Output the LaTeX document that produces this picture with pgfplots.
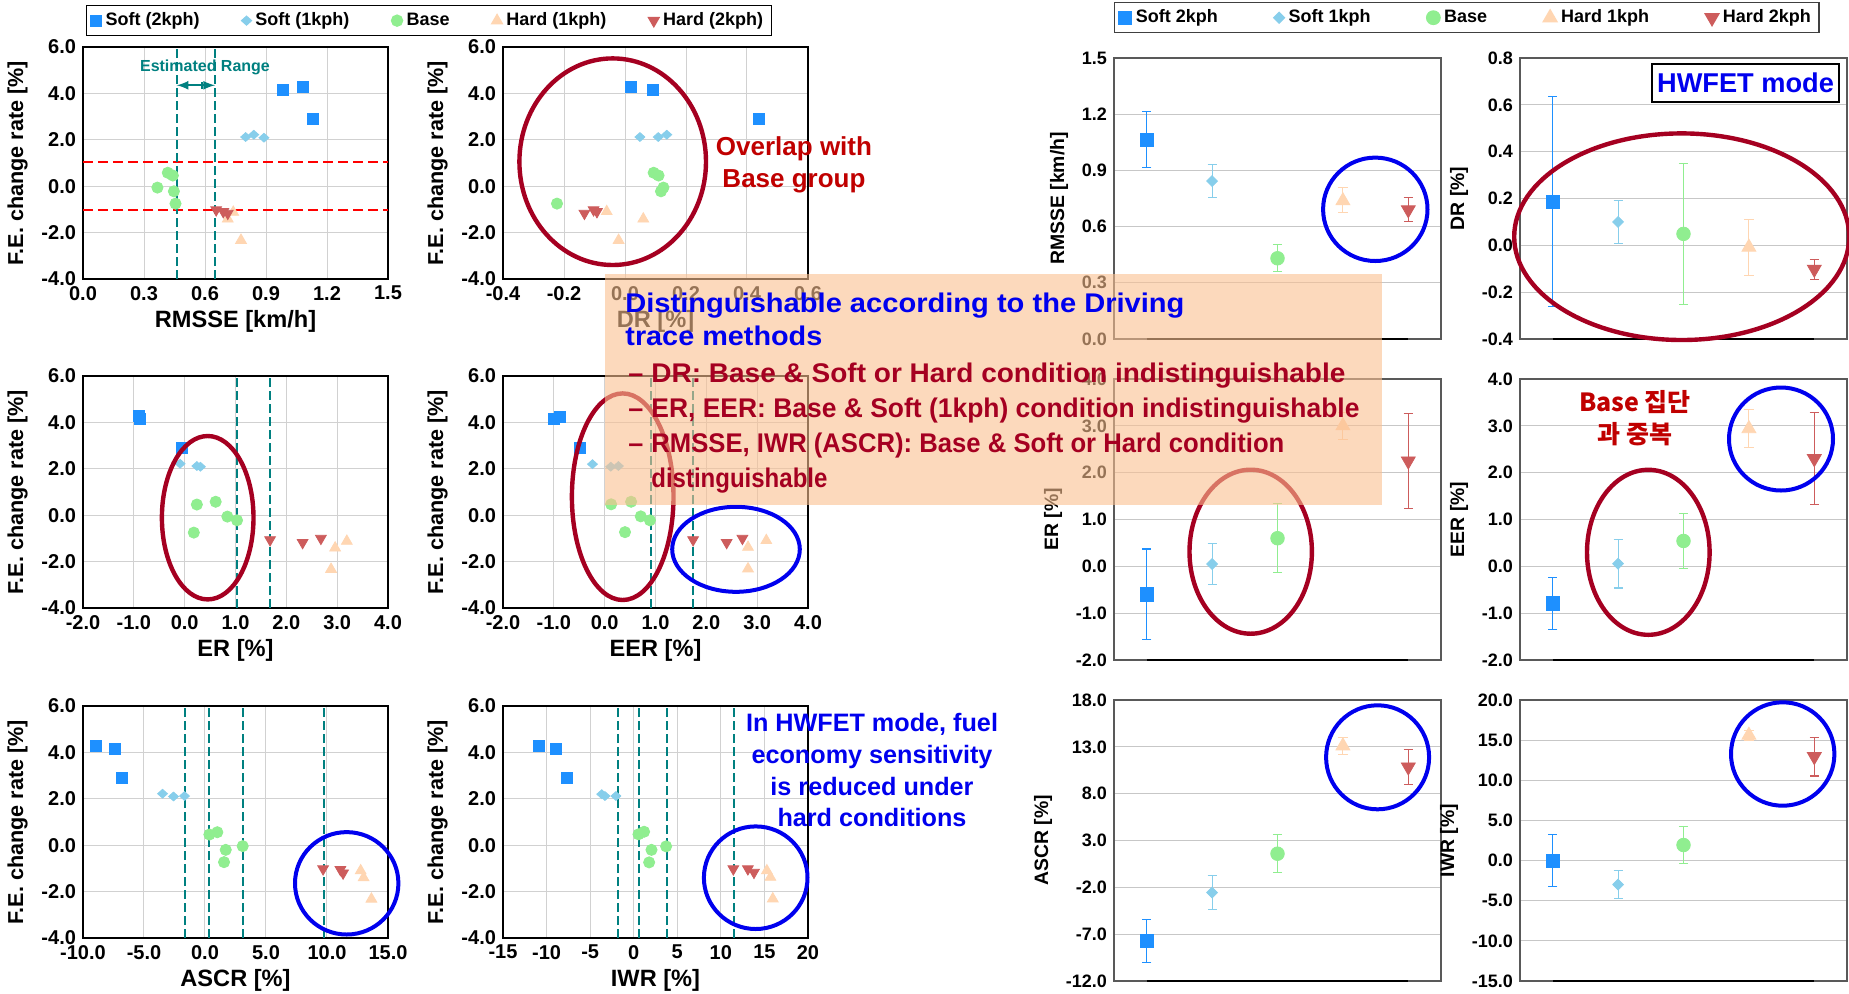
\documentclass[border=0pt]{standalone}
\usepackage{fontspec}
\setmainfont{Liberation Sans}
\newfontfamily\kr{Noto Sans CJK KR}
\usepackage{graphicx}
\usepackage{pgfplots}
\pgfplotsset{compat=1.18}

\definecolor{csoft2}{RGB}{30,144,255}
\definecolor{csoft1}{RGB}{135,206,235}
\definecolor{cbase}{RGB}{144,238,144}
\definecolor{chard1}{RGB}{255,214,178}
\definecolor{chard2}{RGB}{205,92,92}
\definecolor{cteal}{RGB}{0,128,128}
\definecolor{cdarkred}{RGB}{165,0,33}
\definecolor{cblue}{RGB}{0,0,238}
\definecolor{ctextred}{RGB}{192,0,0}
\definecolor{cbox}{RGB}{250,192,144}

\tikzset{tealline/.style={draw=cteal, line width=1pt, dash pattern=on 4.5pt off 2pt}}

\pgfplotsset{
  mk soft2/.style={mark=square*, color=csoft2, mark size=2.75pt},
  mk soft1/.style={mark=diamond*, color=csoft1, mark size=2.2pt, mark options={xscale=1.5}},
  mk base/.style={mark=*, color=cbase, mark size=2.8pt},
  mk hard1/.style={mark=triangle*, color=chard1, mark size=3.1pt},
  mk hard2/.style={mark=triangle*, color=chard2, mark size=3.1pt, mark options={rotate=180}},
  big soft2/.style={mark=square*, color=csoft2, mark size=3.3pt},
  big soft1/.style={mark=diamond*, color=csoft1, mark size=2.7pt, mark options={xscale=1.33}},
  big base/.style={mark=*, color=cbase, mark size=3.4pt},
  big hard1/.style={mark=triangle*, color=chard1, mark size=4pt},
  big hard2/.style={mark=triangle*, color=chard2, mark size=4pt, mark options={rotate=180}},
  ebar/.style={error bars/.cd, y dir=both, y explicit,
    error bar style={line width=0.55pt},
    error mark options={rotate=90, mark size=2.3pt, line width=0.55pt}},
  leftax/.style={
    scale only axis, width=152.5pt, height=116pt, anchor=north west,
    ymin=-4, ymax=6, ytick={-4,-2,0,2,4,6},
    grid=major, major grid style={draw=black!18, line width=0.5pt},
    axis line style={line width=0.7pt},
    major tick length=0pt,
    ylabel={F.E. change rate [\%]},
    tick label style={font=\fontsize{10}{12}\selectfont\bfseries},
    xlabel style={font=\fontsize{11.8}{13}\selectfont\bfseries, yshift=2pt},
    ylabel style={font=\fontsize{10.8}{12}\selectfont\bfseries},
    /pgf/number format/assume math mode=true,
    yticklabel style={/pgf/number format/.cd, fixed, fixed zerofill, precision=1},
    xticklabel style={/pgf/number format/.cd, fixed, fixed zerofill, precision=1},
  },
  rightax/.style={
    scale only axis, width=163.5pt, height=140.5pt, anchor=north west,
    xmin=0.5, xmax=5.5, xtick=\empty,
    ymajorgrids, major grid style={draw=black!22, line width=0.6pt},
    axis line style={draw=black!65, line width=0.6pt},
    major tick length=0pt,
    tick label style={font=\fontsize{9}{11}\selectfont\bfseries},
    ylabel style={font=\fontsize{9.7}{11}\selectfont\bfseries},
    /pgf/number format/assume math mode=true,
    yticklabel style={/pgf/number format/.cd, fixed, fixed zerofill, precision=1},
  },
}

\begin{document}
\begin{tikzpicture}
\path[use as bounding box] (0pt,0pt) rectangle (924.5pt,-496.5pt);
\fill[white] (0pt,0pt) rectangle (924.5pt,-496.5pt);

% ---------------- RMSSE vs F.E. change rate
\begin{axis}[leftax, at={(41.5pt,-23.5pt)},
  xmin=0, xmax=1.5, xtick={0,0.3,0.6,0.9,1.2,1.5},
  xlabel={RMSSE [km/h]},
  legend columns=5,
  legend image code/.code={\draw[#1] plot coordinates {(0pt,0pt)};},
  legend style={at={(0.0098,1.181)}, anchor=north west, draw=black, line width=0.6pt,
    font=\fontsize{9}{11}\selectfont\bfseries, inner xsep=2pt, inner ysep=1.5pt,
    /tikz/every even column/.append style={column sep=19pt}}]
\addlegendimage{mk soft2}\addlegendentry{Soft (2kph)}
\addlegendimage{mk soft1}\addlegendentry{Soft (1kph)}
\addlegendimage{mk base}\addlegendentry{Base}
\addlegendimage{mk hard1}\addlegendentry{Hard (1kph)}
\addlegendimage{mk hard2}\addlegendentry{Hard (2kph)}
\draw[red, line width=1pt, dash pattern=on 5pt off 2.5pt] (axis cs:0,1.06) -- (axis cs:1.5,1.06);
\draw[red, line width=1pt, dash pattern=on 5pt off 2.5pt] (axis cs:0,-1.02) -- (axis cs:1.5,-1.02);
\draw[tealline] (axis cs:0.461,-4) -- (axis cs:0.461,6);
\draw[tealline] (axis cs:0.649,-4) -- (axis cs:0.649,6);
\draw[cteal, line width=1pt, <->, >=latex] (axis cs:0.461,4.35) -- (axis cs:0.649,4.35);
\draw[cteal, line width=1pt] (axis cs:0.587,4.2) -- (axis cs:0.587,4.5);
\node[text=cteal, font=\fontsize{8}{9}\selectfont\bfseries] at (axis cs:0.60,5.14) {Estimated Range};
\addplot[only marks, mk soft2, forget plot] coordinates {(0.981,4.16) (1.080,4.27) (1.132,2.92)};
\addplot[only marks, mk soft1, forget plot] coordinates {(0.80,2.12) (0.84,2.22) (0.89,2.09)};
\addplot[only marks, mk base, forget plot] coordinates {(0.366,-0.06) (0.417,0.58) (0.442,0.46) (0.447,-0.22) (0.455,-0.75)};
\addplot[only marks, mk hard1, forget plot] coordinates {(0.712,-1.41) (0.739,-1.12) (0.777,-2.33)};
\addplot[only marks, mk hard2, forget plot] coordinates {(0.655,-1.02) (0.690,-1.10) (0.712,-1.17)};
\end{axis}

% ---------------- DR vs F.E. change rate
\begin{axis}[leftax, at={(251.5pt,-23.5pt)},
  xmin=-0.4, xmax=0.6, xtick={-0.4,-0.2,0,0.2,0.4,0.6},
  xlabel={DR [\%]}]
\addplot[only marks, mk soft2] coordinates {(0.018,4.27) (0.090,4.16) (0.439,2.92)};
\addplot[only marks, mk soft1] coordinates {(0.049,2.12) (0.109,2.12) (0.137,2.22)};
\addplot[only marks, mk base] coordinates {(-0.223,-0.75) (0.094,0.58) (0.110,0.46) (0.118,-0.22) (0.126,-0.06)};
\addplot[only marks, mk hard1] coordinates {(-0.060,-1.09) (0.060,-1.41) (-0.021,-2.33)};
\addplot[only marks, mk hard2] coordinates {(-0.133,-1.17) (-0.103,-1.02) (-0.092,-1.10)};
\end{axis}

% ---------------- ER vs F.E. change rate
\begin{axis}[leftax, at={(41.5pt,-188pt)},
  xmin=-2, xmax=4, xtick={-2,-1,0,1,2,3,4},
  xlabel={ER [\%]}]
\draw[tealline] (axis cs:1.03,-4) -- (axis cs:1.03,6);
\draw[tealline] (axis cs:1.67,-4) -- (axis cs:1.67,6);
\addplot[only marks, mk soft2] coordinates {(-0.91,4.27) (-0.88,4.16) (-0.06,2.92)};
\addplot[only marks, mk soft1] coordinates {(-0.09,2.22) (0.24,2.12) (0.31,2.09)};
\addplot[only marks, mk base] coordinates {(0.24,0.46) (0.61,0.58) (0.84,-0.06) (1.03,-0.22) (0.18,-0.75)};
\addplot[only marks, mk hard1] coordinates {(2.96,-1.41) (3.19,-1.12) (2.88,-2.33)};
\addplot[only marks, mk hard2] coordinates {(1.68,-1.06) (2.32,-1.18) (2.68,-1.0)};
\end{axis}

% ---------------- EER vs F.E. change rate
\begin{axis}[leftax, at={(251.5pt,-188pt)},
  xmin=-2, xmax=4, xtick={-2,-1,0,1,2,3,4},
  xlabel={EER [\%]}]
\draw[tealline] (axis cs:0.905,-4) -- (axis cs:0.905,6);
\draw[tealline] (axis cs:1.74,-4) -- (axis cs:1.74,6);
\addplot[only marks, mk soft2] coordinates {(-1.005,4.13) (-0.89,4.23) (-0.495,2.91)};
\addplot[only marks, mk soft1] coordinates {(-0.24,2.2) (0.12,2.09) (0.27,2.12)};
\addplot[only marks, mk base] coordinates {(0.127,0.47) (0.52,0.58) (0.71,-0.05) (0.89,-0.22) (0.40,-0.73)};
\addplot[only marks, mk hard1] coordinates {(2.82,-1.38) (3.18,-1.09) (2.82,-2.31)};
\addplot[only marks, mk hard2] coordinates {(1.74,-1.06) (2.40,-1.18) (2.71,-1.0)};
\end{axis}

% ---------------- ASCR vs F.E. change rate
\begin{axis}[leftax, at={(41.5pt,-353pt)},
  xmin=-10, xmax=15, xtick={-10,-5,0,5,10,15},
  xlabel={ASCR [\%]}]
\draw[tealline] (axis cs:-1.68,-4) -- (axis cs:-1.68,6);
\draw[tealline] (axis cs:0.36,-4) -- (axis cs:0.36,6);
\draw[tealline] (axis cs:3.14,-4) -- (axis cs:3.14,6);
\draw[tealline] (axis cs:9.77,-4) -- (axis cs:9.77,6);
\addplot[only marks, mk soft2] coordinates {(-8.94,4.26) (-7.36,4.14) (-6.81,2.91)};
\addplot[only marks, mk soft1] coordinates {(-3.48,2.22) (-2.58,2.10) (-1.68,2.12)};
\addplot[only marks, mk base] coordinates {(0.36,0.46) (1.01,0.56) (1.70,-0.2) (3.09,-0.04) (1.56,-0.73)};
\addplot[only marks, mk hard1] coordinates {(12.76,-1.1) (13.0,-1.4) (13.64,-2.32)};
\addplot[only marks, mk hard2] coordinates {(9.68,-1.02) (11.1,-1.05) (11.32,-1.2)};
\end{axis}

% ---------------- IWR vs F.E. change rate
\begin{axis}[leftax, at={(251.5pt,-353pt)},
  xmin=-15, xmax=20, xtick={-15,-10,-5,0,5,10,15,20},
  xticklabel style={/pgf/number format/precision=0},
  xlabel={IWR [\%]}]
\draw[tealline] (axis cs:-1.76,-4) -- (axis cs:-1.76,6);
\draw[tealline] (axis cs:0.55,-4) -- (axis cs:0.55,6);
\draw[tealline] (axis cs:3.81,-4) -- (axis cs:3.81,6);
\draw[tealline] (axis cs:11.52,-4) -- (axis cs:11.52,6);
\addplot[only marks, mk soft2] coordinates {(-10.92,4.27) (-8.97,4.15) (-7.66,2.92)};
\addplot[only marks, mk soft1] coordinates {(-3.67,2.2) (-3.3,2.12) (-2.04,2.12)};
\addplot[only marks, mk base] coordinates {(0.55,0.47) (1.19,0.58) (2.04,-0.2) (3.72,-0.05) (1.77,-0.74)};
\addplot[only marks, mk hard1] coordinates {(15.28,-1.1) (15.69,-1.38) (15.96,-2.31)};
\addplot[only marks, mk hard2] coordinates {(11.43,-1.02) (13.1,-1.02) (13.8,-1.17)};
\end{axis}

% ---------------- HWFET mode: mean and spread per condition
\begin{axis}[rightax, at={(557pt,-29pt)},
  ymin=0, ymax=1.5, ytick={0,0.3,0.6,0.9,1.2,1.5},
  ylabel={RMSSE [km/h]},
  legend columns=5,
  legend image code/.code={\draw[#1] plot coordinates {(0pt,0pt)};},
  legend style={at={(0,1.199)}, anchor=north west, draw=black!75, line width=0.6pt,
    font=\fontsize{9}{11}\selectfont\bfseries, inner xsep=2pt, inner ysep=1.5pt,
    /tikz/every even column/.append style={column sep=26pt}}]
\addlegendimage{big soft2}\addlegendentry{Soft 2kph}
\addlegendimage{big soft1}\addlegendentry{Soft 1kph}
\addlegendimage{big base}\addlegendentry{Base}
\addlegendimage{big hard1}\addlegendentry{Hard 1kph}
\addlegendimage{big hard2}\addlegendentry{Hard 2kph}
\draw[black, line width=1pt] (axis cs:1,0) -- (axis cs:5,0);
\addplot[only marks, big soft2, forget plot, ebar] coordinates {(1,1.065) +- (0,0.15)};
\addplot[only marks, big soft1, forget plot, ebar] coordinates {(2,0.843) +- (0,0.09)};
\addplot[only marks, big base, forget plot, ebar] coordinates {(3,0.431) +- (0,0.072)};
\addplot[only marks, big hard1, forget plot, ebar] coordinates {(4,0.738) += (0,0.071) -= (0,0.063)};
\addplot[only marks, big hard2, forget plot, ebar] coordinates {(5,0.69) +- (0,0.064)};
\end{axis}

\begin{axis}[rightax, at={(760pt,-29pt)},
  ymin=-0.4, ymax=0.8, ytick={-0.4,-0.2,0,0.2,0.4,0.6,0.8},
  ylabel={DR [\%]}]
\draw[black, line width=1pt] (axis cs:1,-0.4) -- (axis cs:5,-0.4);
\addplot[only marks, big soft2, ebar] coordinates {(1,0.187) +- (0,0.45)};
\addplot[only marks, big soft1, ebar] coordinates {(2,0.10) +- (0,0.092)};
\addplot[only marks, big base, ebar] coordinates {(3,0.049) +- (0,0.30)};
\addplot[only marks, big hard1, ebar] coordinates {(4,-0.008) +- (0,0.12)};
\addplot[only marks, big hard2, ebar] coordinates {(5,-0.102) +- (0,0.042)};
\end{axis}

\begin{axis}[rightax, at={(557pt,-189.5pt)},
  ymin=-2, ymax=4, ytick={-2,-1,0,1,2,3,4},
  ylabel={ER [\%]}]
\draw[black, line width=1pt] (axis cs:1,-2) -- (axis cs:5,-2);
\addplot[only marks, big soft2, ebar] coordinates {(1,-0.6) +- (0,0.97)};
\addplot[only marks, big soft1, ebar] coordinates {(2,0.05) +- (0,0.435)};
\addplot[only marks, big base, ebar] coordinates {(3,0.6) +- (0,0.74)};
\addplot[only marks, big hard1, ebar] coordinates {(4,3.0) +- (0,0.29)};
\addplot[only marks, big hard2, ebar] coordinates {(5,2.25) +- (0,1.01)};
\end{axis}

\begin{axis}[rightax, at={(760pt,-189.5pt)},
  ymin=-2, ymax=4, ytick={-2,-1,0,1,2,3,4},
  ylabel={EER [\%]}]
\draw[black, line width=1pt] (axis cs:1,-2) -- (axis cs:5,-2);
\addplot[only marks, big soft2, ebar] coordinates {(1,-0.79) +- (0,0.55)};
\addplot[only marks, big soft1, ebar] coordinates {(2,0.057) +- (0,0.52)};
\addplot[only marks, big base, ebar] coordinates {(3,0.542) +- (0,0.59)};
\addplot[only marks, big hard1, ebar] coordinates {(4,2.94) +- (0,0.40)};
\addplot[only marks, big hard2, ebar] coordinates {(5,2.30) +- (0,0.98)};
\end{axis}

\begin{axis}[rightax, at={(557pt,-350pt)},
  ymin=-12, ymax=18, ytick={-12,-7,-2,3,8,13,18},
  ylabel={ASCR [\%]}]
\draw[black, line width=1pt] (axis cs:1,-12) -- (axis cs:5,-12);
\addplot[only marks, big soft2, ebar] coordinates {(1,-7.7) +- (0,2.3)};
\addplot[only marks, big soft1, ebar] coordinates {(2,-2.56) +- (0,1.82)};
\addplot[only marks, big base, ebar] coordinates {(3,1.59) +- (0,2.02)};
\addplot[only marks, big hard1, ebar] coordinates {(4,13.1) +- (0,0.87)};
\addplot[only marks, big hard2, ebar] coordinates {(5,10.85) +- (0,1.83)};
\end{axis}

\begin{axis}[rightax, at={(760pt,-350pt)},
  ymin=-15, ymax=20, ytick={-15,-10,-5,0,5,10,15,20},
  ylabel={IWR [\%]}]
\draw[black, line width=1pt] (axis cs:1,-15) -- (axis cs:5,-15);
\addplot[only marks, big soft2, ebar] coordinates {(1,0) +- (0,3.2)};
\addplot[only marks, big soft1, ebar] coordinates {(2,-2.99) +- (0,1.75)};
\addplot[only marks, big base, ebar] coordinates {(3,1.94) +- (0,2.35)};
\addplot[only marks, big hard1, ebar] coordinates {(4,15.62) +- (0,0.6)};
\addplot[only marks, big hard2, ebar] coordinates {(5,12.95) +- (0,2.42)};
\end{axis}

% ---------------- annotations (1 unit = 0.5pt, y downward)
\begin{scope}[x=0.5pt, y=-0.5pt]
  % groups of interest
  \draw[cdarkred, line width=2.2pt] (612.7,161.7) ellipse [x radius=93.3, y radius=103.3];
  \draw[cdarkred, line width=2.2pt] (207.7,517.7) ellipse [x radius=45.8, y radius=81.7];
  \draw[cdarkred, line width=2.2pt] (622.7,496.7) ellipse [x radius=50.8, y radius=103.3];
  \draw[cblue, line width=2pt] (736,549.3) ellipse [x radius=63.8, y radius=42.5];
  \draw[cblue, line width=2pt] (346.7,883.3) ellipse [x radius=51.7, y radius=51.2];
  \draw[cblue, line width=2pt] (755.7,877.7) ellipse [x radius=51.8, y radius=51.3];
  \draw[cblue, line width=2pt] (1375.3,209.3) ellipse [x radius=52.2, y radius=51.7];
  \draw[cdarkred, line width=2.2pt] (1681.7,236.7) ellipse [x radius=167.5, y radius=103.3];
  \draw[cdarkred, line width=2.2pt] (1250.7,551.7) ellipse [x radius=61.2, y radius=82];
  \draw[cdarkred, line width=2.2pt] (1648.3,552.3) ellipse [x radius=61.3, y radius=82.5];
  \draw[cblue, line width=2pt] (1781,439) ellipse [x radius=52, y radius=51.5];
  \draw[cblue, line width=2pt] (1377.6,757.3) ellipse [x radius=51.5, y radius=52];
  \draw[cblue, line width=2pt] (1782.7,754) ellipse [x radius=51.7, y radius=51.7];

  % callouts
  \node[anchor=base, inner sep=0, text=ctextred, font=\fontsize{13}{15}\selectfont\bfseries] at (794,155) {Overlap with};
  \node[anchor=base, inner sep=0, text=ctextred, font=\fontsize{13}{15}\selectfont\bfseries] at (794,187) {Base group};
  \filldraw[fill=white, draw=black, line width=0.6pt] (1652,64) rectangle (1839,102);
  \node[inner sep=0, text=cblue, font=\fontsize{13.6}{15}\selectfont\bfseries] at (1745.5,83) {HWFET mode};
  \node[anchor=base, inner sep=0, text=ctextred, font=\kr\fontsize{12.5}{14}\selectfont\bfseries] at (1635,411) {Base 집단};
  \node[anchor=base, inner sep=0, text=ctextred, font=\kr\fontsize{12.5}{14}\selectfont\bfseries] at (1635,443) {과 중복};
  \foreach \t/\yy in {{In HWFET mode, fuel}/731.7, {economy sensitivity}/763, {is reduced under}/795, {hard conditions}/826.7}
    \node[anchor=base, inner sep=0, text=cblue, font=\fontsize{12.6}{14}\selectfont\bfseries] at (872,\yy) {\t};

  % summary box
  \fill[cbox, fill opacity=0.6] (605,274) rectangle (1382,505);
  \begin{scope}[every node/.style={anchor=base west, inner sep=0, font=\fontsize{13.5}{15}\selectfont\bfseries}]
    \node[text=cblue] at (625,312) {\resizebox{279.5pt}{\height}{Distinguishable according to the Driving}};
    \node[text=cblue] at (625,345) {\resizebox{98.5pt}{\height}{trace methods}};
    \node[text=cdarkred] at (628,382) {--};
    \node[text=cdarkred] at (628,417) {--};
    \node[text=cdarkred] at (628,452) {--};
    \node[text=cdarkred] at (651,382) {\resizebox{347pt}{\height}{DR: Base \& Soft or Hard condition indistinguishable}};
    \node[text=cdarkred] at (651,417) {\resizebox{354pt}{\height}{ER, EER: Base \& Soft (1kph) condition indistinguishable}};
    \node[text=cdarkred] at (651,452) {\resizebox{316.5pt}{\height}{RMSSE, IWR (ASCR): Base \& Soft or Hard condition}};
    \node[text=cdarkred] at (651,487) {\resizebox{88pt}{\height}{distinguishable}};
  \end{scope}
\end{scope}
\end{tikzpicture}
\end{document}
